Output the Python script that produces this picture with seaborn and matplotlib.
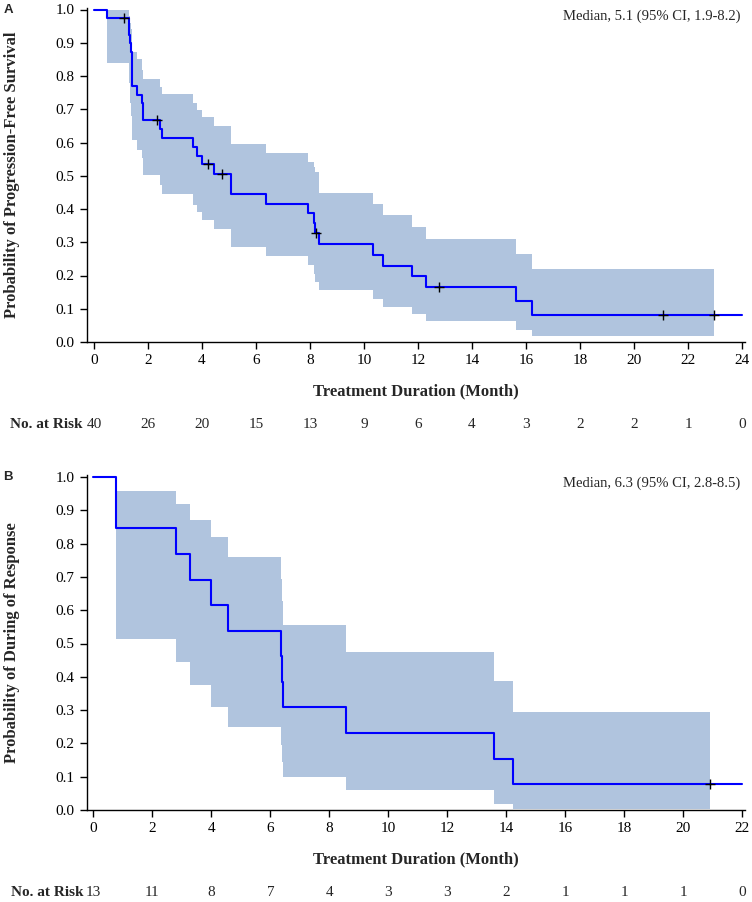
import numpy as np
import pandas as pd
import matplotlib
matplotlib.use("Agg")
import matplotlib.pyplot as plt
import matplotlib.transforms as mtransforms
from matplotlib.ticker import FormatStrFormatter
import seaborn as sns

# ---------------- Panel A: Progression-free survival ----------------
a_time = [0, 0.47, 1.30, 1.33, 1.36, 1.39, 1.60, 1.77, 1.83, 2.43, 2.52, 3.68, 3.80,
          3.99, 4.46, 5.07, 6.37, 7.91, 8.15, 8.20, 8.34, 10.32, 10.72, 11.78, 12.30,
          15.63, 16.23]
a_surv = [1.0, 0.975, 0.924, 0.898, 0.872, 0.770, 0.744, 0.718, 0.667, 0.640, 0.614,
          0.587, 0.560, 0.534, 0.505, 0.446, 0.416, 0.387, 0.357, 0.327, 0.295, 0.262,
          0.229, 0.197, 0.164, 0.123, 0.082]
a_lower = [np.nan, 0.838, 0.780, 0.720, 0.680, 0.608, 0.577, 0.552, 0.502, 0.472, 0.444,
           0.412, 0.392, 0.367, 0.340, 0.287, 0.259, 0.232, 0.205, 0.181, 0.156, 0.130,
           0.106, 0.084, 0.063, 0.037, 0.017]
a_upper = [np.nan, 0.998, 0.980, 0.960, 0.940, 0.873, 0.850, 0.818, 0.790, 0.766, 0.746,
           0.720, 0.698, 0.676, 0.650, 0.596, 0.567, 0.540, 0.525, 0.512, 0.449, 0.415,
           0.382, 0.346, 0.309, 0.265, 0.220]
a_line_end = 24.0
a_band_end = 22.95
a_cens_time = [1.12, 2.35, 4.23, 4.73, 8.22, 12.79, 21.06, 22.95]
a_cens_surv = [0.975, 0.667, 0.534, 0.505, 0.327, 0.164, 0.082, 0.082]
a_ticks = [0, 2, 4, 6, 8, 10, 12, 14, 16, 18, 20, 22, 24]
a_risk = [40, 26, 20, 15, 13, 9, 6, 4, 3, 2, 2, 1, 0]
a_ylabel = "Probability of Progression-Free Survival"
a_median = "Median, 5.1 (95% CI, 1.9-8.2)"

# ---------------- Panel B: Duration of response ----------------
b_time = [0, 0.75, 0.77, 2.79, 3.27, 3.97, 4.55, 6.36, 6.38, 6.44, 8.55, 13.58, 14.23]
b_surv = [1.0, 0.923, 0.846, 0.769, 0.692, 0.615, 0.538, 0.462, 0.385, 0.308, 0.231,
          0.154, 0.077]
b_lower = [np.nan, 0.571, 0.513, 0.443, 0.375, 0.310, 0.250, 0.195, 0.145, 0.098, 0.059,
           0.018, 0.003]
b_upper = [np.nan, 0.958, 0.958, 0.919, 0.871, 0.819, 0.759, 0.695, 0.628, 0.556, 0.475,
           0.388, 0.293]
b_line_end = 22.0
b_band_end = 20.92
b_cens_time = [20.92]
b_cens_surv = [0.077]
b_ticks = [0, 2, 4, 6, 8, 10, 12, 14, 16, 18, 20, 22]
b_risk = [13, 11, 8, 7, 4, 3, 3, 2, 1, 1, 1, 0]
b_ylabel = "Probability of During of Response"
b_median = "Median, 6.3 (95% CI, 2.8-8.5)"

xlabel = "Treatment Duration (Month)"

# ---------------- styling ----------------
sns.set_theme(style="ticks")
plt.rcParams["font.family"] = ["Liberation Serif", "DejaVu Serif"]
plt.rcParams["axes.linewidth"] = 1.0

W, H = 752, 902
fig = plt.figure(figsize=(W / 100, H / 100), dpi=100)

LINE_C = "#0000FF"
BAND_C = "#B0C4DE"


def px_axes(left, right, bottom_px, top_px):
    return [left / W, 1 - bottom_px / H, (right - left) / W, (bottom_px - top_px) / H]


def draw(ax, t, s, lo, up, line_end, band_end, ct, cs, ticks, risk,
         ylabel, median, xlim, letter):
    bt = list(t) + [band_end]
    blo = list(lo) + [lo[-1]]
    bup = list(up) + [up[-1]]
    ax.fill_between(bt, blo, bup, step="post", color=BAND_C, lw=0, zorder=1)

    df = pd.DataFrame({"t": list(t) + [line_end], "s": list(s) + [s[-1]]})
    sns.lineplot(data=df, x="t", y="s", drawstyle="steps-post", color=LINE_C,
                 lw=1.5, estimator=None, ax=ax, zorder=3, clip_on=False)
    sns.scatterplot(x=ct, y=cs, marker="+", s=60, color="black", linewidth=1.0,
                    ax=ax, zorder=4, clip_on=False)

    ax.set_xlim(*xlim)
    ax.set_ylim(0, 1.005)
    ax.set_xticks(ticks)
    ax.set_yticks(np.arange(0, 1.01, 0.1))
    ax.yaxis.set_major_formatter(FormatStrFormatter("%.1f"))
    sns.despine(ax=ax)
    ax.tick_params(axis="both", direction="out", length=5, width=1.0,
                   labelsize=11, colors="black", pad=4)
    ax.spines["left"].set_color("black")
    ax.spines["bottom"].set_color("black")

    ax.set_xlabel(xlabel, fontsize=12, fontweight="bold")
    ax.set_ylabel(ylabel, fontsize=12, fontweight="bold")
    h = ax.get_position().height * H
    w = ax.get_position().width * W
    ax.xaxis.set_label_coords(0.5, -49 / h)
    ax.xaxis.label.set_va("center")
    ax.yaxis.set_label_coords(-75 / w, 0.5)
    ax.yaxis.label.set_va("center")

    trans = mtransforms.blended_transform_factory(ax.transData, ax.transAxes)
    for x, n in zip(ticks, risk):
        ax.text(x, -82 / h, str(n), transform=trans, ha="center", va="center",
                fontsize=11)
    ax.text(-4 / w, -82 / h, "No. at Risk", transform=ax.transAxes, ha="right",
            va="center", fontsize=11, fontweight="bold")

    ax.text(0.993, 0.975, median, transform=ax.transAxes, ha="right", va="center",
            fontsize=10.5)
    ax.text(-79 / w, 0.995, letter, transform=ax.transAxes, ha="center", va="center",
            fontsize=9.5, fontweight="bold", family=["Liberation Sans", "DejaVu Sans"])


axA = fig.add_axes(px_axes(87, 745, 342, 342 - 332.5 * 1.005))
draw(axA, a_time, a_surv, a_lower, a_upper, a_line_end, a_band_end,
     a_cens_time, a_cens_surv, a_ticks, a_risk, a_ylabel, a_median,
     (-7 / 27, 24 + 3 / 27), "A")

axB = fig.add_axes(px_axes(87.3, 745, 810, 810 - 333 * 1.005))
draw(axB, b_time, b_surv, b_lower, b_upper, b_line_end, b_band_end,
     b_cens_time, b_cens_surv, b_ticks, b_risk, b_ylabel, b_median,
     (-6.2 / 29.5, 22 + 3 / 29.5), "B")

fig.savefig("out.png", dpi=100)
